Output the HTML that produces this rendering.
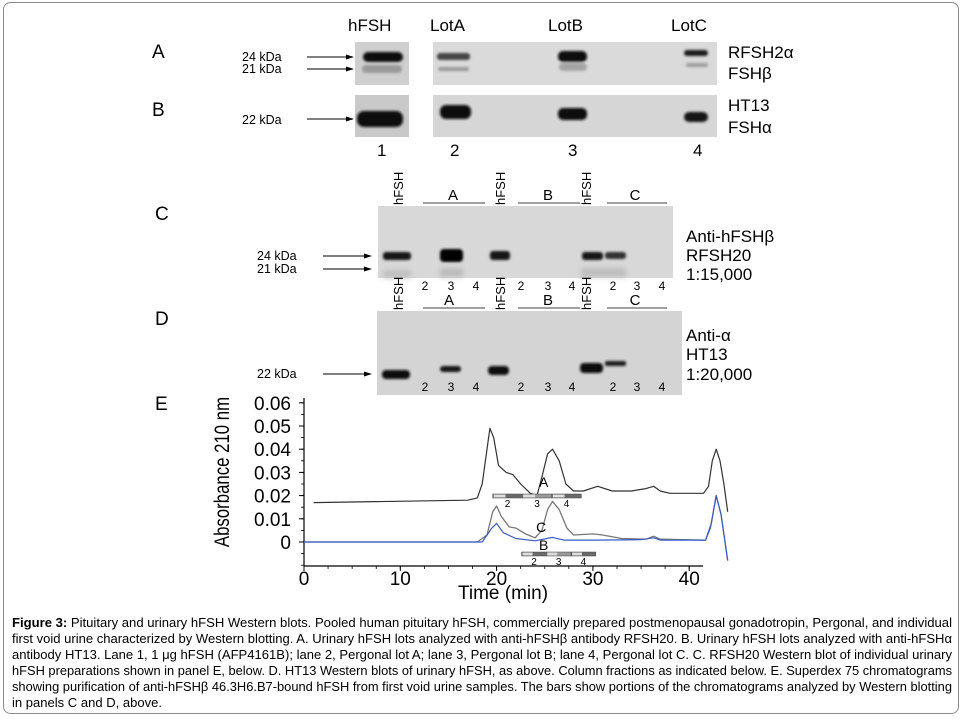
<!DOCTYPE html>
<html><head><meta charset="utf-8"><style>
html,body{margin:0;padding:0;background:#fff;}
svg{display:block;font-family:"Liberation Sans",sans-serif;}
</style></head><body>
<svg id="fig" width="964" height="722" viewBox="0 0 964 722" xmlns="http://www.w3.org/2000/svg">
<defs>
<filter id="bl" x="-50%" y="-100%" width="200%" height="300%"><feGaussianBlur stdDeviation="1.3"/></filter>
<filter id="bl2" x="-50%" y="-100%" width="200%" height="300%"><feGaussianBlur stdDeviation="2.2"/></filter>
</defs>
<rect x="3.5" y="2.5" width="955" height="711" rx="7" fill="#fff" stroke="#8a8a8a" stroke-width="1"/>

<g font-size="17">
<text x="152" y="58" font-size="19">A</text>
<text x="152" y="116" font-size="19">B</text>
<text x="348" y="31">hFSH</text>
<text x="430" y="31">LotA</text>
<text x="548" y="31">LotB</text>
<text x="671" y="31">LotC</text>
<g font-size="12.5">
<text x="242" y="61">24 kDa</text>
<text x="242" y="73">21 kDa</text>
<text x="242" y="124">22 kDa</text>
</g>
<g stroke="#000" stroke-width="1" fill="#000">
<line x1="307" y1="57" x2="348" y2="57"/><path d="M354 57 L346 54.5 L346 59.5Z" stroke="none"/>
<line x1="307" y1="69" x2="348" y2="69"/><path d="M354 69 L346 66.5 L346 71.5Z" stroke="none"/>
<line x1="307" y1="119" x2="348" y2="119"/><path d="M354 119 L346 116.5 L346 121.5Z" stroke="none"/>
</g>
<rect x="355" y="42" width="54" height="43" fill="#cfcfcf"/>
<rect x="433" y="42" width="284" height="43" fill="#dadada"/>
<rect x="355" y="95" width="54" height="42" fill="#c9c9c9"/>
<rect x="433" y="95" width="284" height="42" fill="#d6d6d6"/>
<g filter="url(#bl)">
<rect x="363" y="52" width="40" height="10" rx="5" fill="#111"/>
<rect x="362" y="65" width="40" height="8" rx="4" fill="#9a9a9a"/>
<rect x="437" y="53" width="33" height="7" rx="3" fill="#444"/>
<rect x="438" y="67" width="31" height="4" rx="2" fill="#999"/>
<rect x="558" y="51" width="29" height="11" rx="5" fill="#111"/>
<rect x="559" y="63" width="28" height="8" rx="4" fill="#a5a5a5"/>
<rect x="684" y="50" width="24" height="6" rx="3" fill="#1a1a1a"/>
<rect x="686" y="63" width="22" height="4" rx="2" fill="#9c9c9c"/>
<rect x="357" y="111" width="46" height="16" rx="7" fill="#111"/>
<rect x="440" y="105" width="31" height="14" rx="6" fill="#0c0c0c"/>
<rect x="558" y="108" width="29" height="12" rx="5" fill="#111"/>
<rect x="684" y="112" width="24" height="10" rx="5" fill="#151515"/>
</g>
<text x="728" y="58">RFSH2α</text>
<text x="728" y="79">FSHβ</text>
<text x="728" y="111">HT13</text>
<text x="728" y="133">FSHα</text>
<text x="377" y="156">1</text>
<text x="450" y="156">2</text>
<text x="568" y="156">3</text>
<text x="693" y="156">4</text>
</g>

<g>
<text x="155" y="220" font-size="19">C</text>
<text x="155" y="325" font-size="19">D</text>
<g font-size="12.5">
<text x="257" y="260">24 kDa</text>
<text x="257" y="273">21 kDa</text>
<text x="257" y="378">22 kDa</text>
</g>
<g stroke="#000" stroke-width="1" fill="#000">
<line x1="323" y1="256" x2="366" y2="256"/><path d="M372 256 L364 253.5 L364 258.5Z" stroke="none"/>
<line x1="323" y1="269" x2="366" y2="269"/><path d="M372 269 L364 266.5 L364 271.5Z" stroke="none"/>
<line x1="323" y1="374" x2="366" y2="374"/><path d="M372 374 L364 371.5 L364 376.5Z" stroke="none"/>
</g>
<rect x="378" y="206" width="295" height="72" fill="#d8d8d8"/>
<rect x="377" y="311" width="305" height="84" fill="#d4d4d4"/>
<g filter="url(#bl)">
<rect x="383" y="270" width="28" height="8" fill="#c0c0c0" filter="url(#bl2)"/>
<rect x="440" y="268" width="23" height="9" fill="#bbb" filter="url(#bl2)"/>
<rect x="581" y="268" width="45" height="9" fill="#bdbdbd" filter="url(#bl2)"/>
<rect x="383" y="252" width="28" height="8" rx="3" fill="#181818"/>
<rect x="440" y="249" width="23" height="13" rx="4" fill="#050505"/>
<rect x="490" y="251" width="20" height="9" rx="3" fill="#151515"/>
<rect x="582" y="252" width="21" height="8" rx="3" fill="#151515"/>
<rect x="605" y="252" width="21" height="7" rx="3" fill="#333"/>
<rect x="382" y="370" width="28" height="9" rx="4" fill="#0c0c0c"/>
<rect x="440" y="366" width="21" height="6" rx="3" fill="#151515"/>
<rect x="488" y="366" width="21" height="9" rx="4" fill="#0c0c0c"/>
<rect x="580" y="363" width="23" height="10" rx="4" fill="#0a0a0a"/>
<rect x="605" y="361" width="21" height="5" rx="2" fill="#1c1c1c"/>
</g>
<g font-size="13">
<text transform="translate(403,205) rotate(-90)">hFSH</text>
<text transform="translate(505,205) rotate(-90)">hFSH</text>
<text transform="translate(591,205) rotate(-90)">hFSH</text>
<text transform="translate(403,310) rotate(-90)">hFSH</text>
<text transform="translate(505,310) rotate(-90)">hFSH</text>
<text transform="translate(591,310) rotate(-90)">hFSH</text>
</g>
<g font-size="15" text-anchor="middle">
<text x="453" y="200">A</text>
<text x="548" y="200">B</text>
<text x="635" y="200">C</text>
<text x="449" y="305">A</text>
<text x="548" y="305">B</text>
<text x="635" y="305">C</text>
</g>
<g stroke="#000" stroke-width="0.8">
<line x1="423" y1="203" x2="485" y2="203"/><line x1="518" y1="203" x2="580" y2="203"/><line x1="607" y1="203" x2="667" y2="203"/>
<line x1="423" y1="308" x2="485" y2="308"/><line x1="518" y1="308" x2="580" y2="308"/><line x1="607" y1="308" x2="667" y2="308"/>
</g>
<g font-size="12" text-anchor="middle">
<text x="425" y="290">2</text><text x="451" y="290">3</text><text x="476" y="290">4</text>
<text x="521" y="290">2</text><text x="548" y="290">3</text><text x="572" y="290">4</text>
<text x="613" y="290">2</text><text x="637" y="290">3</text><text x="662" y="290">4</text>
<text x="425" y="391">2</text><text x="451" y="391">3</text><text x="476" y="391">4</text>
<text x="521" y="391">2</text><text x="548" y="391">3</text><text x="572" y="391">4</text>
<text x="613" y="391">2</text><text x="637" y="391">3</text><text x="662" y="391">4</text>
</g>
<g font-size="17">
<text x="686" y="242">Anti-hFSHβ</text>
<text x="686" y="261">RFSH20</text>
<text x="686" y="280">1:15,000</text>
<text x="686" y="341">Anti-α</text>
<text x="686" y="360">HT13</text>
<text x="686" y="380">1:20,000</text>
</g>
</g>

<g id="chartE">
<text x="155" y="410" font-size="19">E</text>
<text transform="translate(229,472) rotate(-90) scale(0.8,1)" font-size="21" text-anchor="middle">Absorbance 210 nm</text>
<text x="503" y="599" font-size="19" text-anchor="middle">Time (min)</text>
<g id="axes"></g>
<g id="series"></g>
</g>

<g id="caption" font-size="13" font-family="'Liberation Sans Narrow','Liberation Sans',sans-serif"></g>
</svg>
<script>
const xTicks = [0, 10, 20, 30, 40];
const yTicks = [0, 0.01, 0.02, 0.03, 0.04, 0.05, 0.06];
const yTickLabels = ["0", "0.01", "0.02", "0.03", "0.04", "0.05", "0.06"];
const timeA = [1,17,18,18.5,19,19.3,19.7,20.2,21,21.7,22.5,23.5,24.2,24.7,25.3,25.8,26.5,27.2,28,29,30.5,32,34,35.5,36.3,37,38,41.5,42,42.4,42.8,43.2,43.6,44];
const valA  = [0.017,0.018,0.019,0.025,0.040,0.049,0.045,0.033,0.030,0.029,0.025,0.021,0.020,0.028,0.038,0.040,0.035,0.025,0.022,0.022,0.024,0.022,0.022,0.023,0.024,0.022,0.021,0.021,0.024,0.035,0.040,0.035,0.025,0.013];
const timeC = [0,18,19,19.6,20,20.5,21.3,22,23,24,24.7,25.3,25.8,26.5,27.3,28,30,31,33,35.5,36.3,37,41.7,42.2,42.8,43.3,44];
const valC  = [0,0,0.003,0.013,0.0155,0.011,0.0065,0.006,0.0035,0.0018,0.005,0.014,0.0175,0.014,0.006,0.003,0.0035,0.003,0.0015,0.0012,0.0025,0.0012,0.0008,0.006,0.020,0.012,-0.008];
const timeB = [0,18.5,19.5,20,20.7,22,24,25.8,27,30,35,36.3,37,41.7,42.3,42.8,43.3,44];
const valB  = [0,0,0.006,0.008,0.004,0.0015,0.0005,0.002,0.0008,0.0008,0.001,0.0018,0.0008,0.0008,0.008,0.020,0.012,-0.008];
const barA = [19.6, 28.8];
const barB = [22.6, 30.3];

const NS = "http://www.w3.org/2000/svg";
function X(t){ return 304 + t * 9.63; }
function Y(v){ return 542 - v * 2320; }
function mk(tag, attrs, parent){ const e=document.createElementNS(NS,tag); for(const k in attrs) e.setAttribute(k, attrs[k]); parent.appendChild(e); return e; }

const axes = document.getElementById('axes');
let a = mk('line',{x1:X(0),y1:398,x2:X(0),y2:566,stroke:'#000','stroke-width':1.2},axes);


a = mk('line',{x1:X(0),y1:566,x2:703,y2:566,stroke:'#000','stroke-width':1.2},axes);


yTicks.forEach((v,i)=>{
  mk('line',{x1:X(0)-5,y1:Y(v),x2:X(0),y2:Y(v),stroke:'#000'},axes);
  const t = mk('text',{x:291,y:Y(v)+7,'font-size':19,'text-anchor':'end'},axes);
  t.textContent = yTickLabels[i];
  
  
});
for(let v=-0.01; v<0.06; v+=0.005){ mk('line',{x1:X(0)-3,y1:Y(v),x2:X(0),y2:Y(v),stroke:'#000','stroke-width':0.8},axes); }
for(let t=0; t<=41; t+=2.5){ mk('line',{x1:X(t),y1:566,x2:X(t),y2:569,stroke:'#000','stroke-width':0.8},axes); }
xTicks.forEach(v=>{
  mk('line',{x1:X(v),y1:566,x2:X(v),y2:571,stroke:'#000'},axes);
  const t = mk('text',{x:X(v),y:585,'font-size':19,'text-anchor':'middle'},axes);
  t.textContent = String(v);
  
  
});

const ser = document.getElementById('series');
function path(ts, vs){ return ts.map((t,i)=>(i?'L':'M')+X(t).toFixed(1)+' '+Y(vs[i]).toFixed(1)).join(' '); }
let p = mk('path',{d:path(timeC,valC),fill:'none',stroke:'#777','stroke-width':1.3,'stroke-linejoin':'round'},ser);


p = mk('path',{d:path(timeB,valB),fill:'none',stroke:'#3a5bc0','stroke-width':1.2,'stroke-linejoin':'round'},ser);


p = mk('path',{d:path(timeA,valA),fill:'none',stroke:'#333','stroke-width':1.2,'stroke-linejoin':'round'},ser);



function fracBar(range, y, name){
  const x0=X(range[0]), x1=X(range[1]), w=(x1-x0)/3;
  const g = mk('g',{},ser);
  
  
  for(let i=0;i<3;i++){
    mk('rect',{x:x0+i*w,y:y-2,width:w,height:4,fill:i==1?'#999':'#6a6a6a',stroke:'#444','stroke-width':0.5},g);
    mk('rect',{x:x0+i*w+1,y:y-1.5,width:w*0.4,height:3,fill:'#ddd'},g);
    const t = mk('text',{x:x0+i*w+w*0.5,y:y+11,'font-size':10,'text-anchor':'middle'},g);
    t.textContent = String(i+2);
  }
}
fracBar(barA, 496, 'fraction-bar-a');
fracBar(barB, 554, 'fraction-bar-b');
let lb = mk('text',{x:X(24.4),y:487,'font-size':14},ser); lb.textContent='A';


lb = mk('text',{x:X(24.1),y:532,'font-size':14},ser); lb.textContent='C';


lb = mk('text',{x:X(24.4),y:550,'font-size':14},ser); lb.textContent='B';



const capLines = [
 ["Figure 3:", " Pituitary and urinary hFSH Western blots. Pooled human pituitary hFSH, commercially prepared postmenopausal gonadotropin, Pergonal, and individual", true],
 ["", "first void urine characterized by Western blotting. A. Urinary hFSH lots analyzed with anti-hFSHβ antibody RFSH20. B. Urinary hFSH lots analyzed with anti-hFSHα", true],
 ["", "antibody HT13. Lane 1, 1 μg hFSH (AFP4161B); lane 2, Pergonal lot A; lane 3, Pergonal lot B; lane 4, Pergonal lot C. C. RFSH20 Western blot of individual urinary", true],
 ["", "hFSH preparations shown in panel E, below. D. HT13 Western blots of urinary hFSH, as above. Column fractions as indicated below. E. Superdex 75 chromatograms", true],
 ["", "showing purification of anti-hFSHβ 46.3H6.B7-bound hFSH from first void urine samples. The bars show portions of the chromatograms analyzed by Western blotting", true],
 ["", "in panels C and D, above.", false]
];
const cap = document.getElementById('caption');
capLines.forEach((l,i)=>{
  const attrs = {x:12, y:627+i*16};
  if(l[2]) { attrs.textLength = 940; attrs.lengthAdjust='spacingAndGlyphs'; }
  else { attrs.textLength = 150; attrs.lengthAdjust='spacingAndGlyphs'; }
  const t = mk('text', attrs, cap);
  
  
  if(l[0]){ const b=mk('tspan',{'font-weight':'bold'},t); b.textContent=l[0]; }
  const s = mk('tspan',{},t); s.textContent = l[1];
});
</script>
</body></html>
